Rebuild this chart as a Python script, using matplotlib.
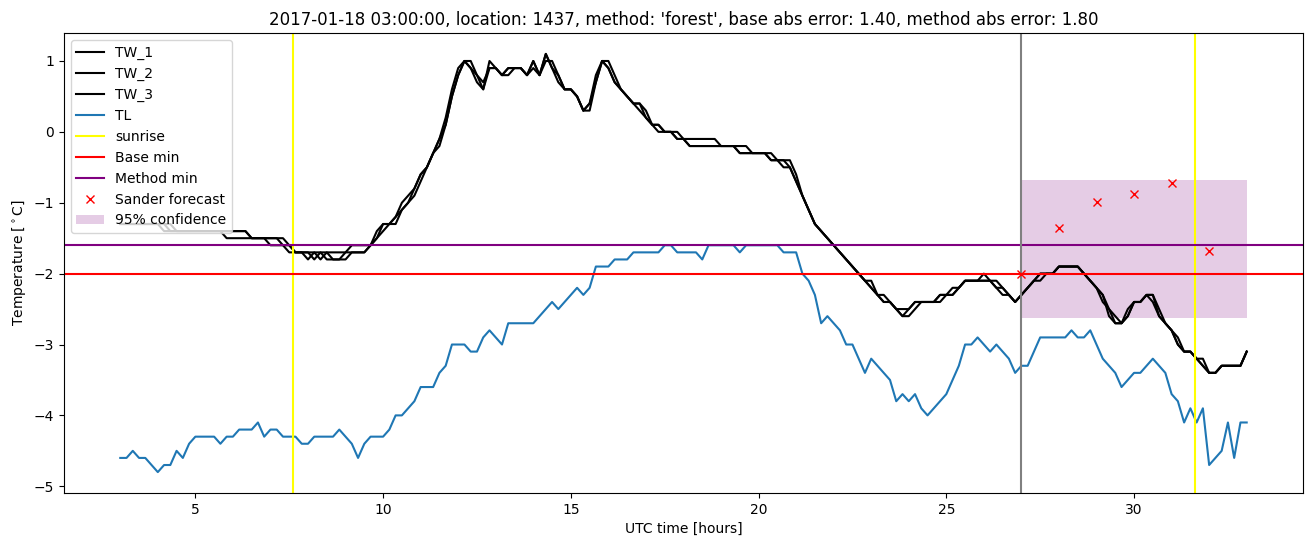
import numpy as np
import matplotlib
matplotlib.use("Agg")
import matplotlib.pyplot as plt

# 10-minute samples from 03:00 to 33:00 (hours since midnight UTC)
t_start, t_end = 3.0, 33.0

TW_1 = [
    -1.3, -1.3, -1.3, -1.3, -1.3, -1.3,
    -1.3, -1.4, -1.4, -1.4, -1.4, -1.4,
    -1.4, -1.4, -1.4, -1.4, -1.4, -1.5,
    -1.5, -1.5, -1.5, -1.5, -1.5, -1.5,
    -1.6, -1.6, -1.6, -1.7, -1.7, -1.7,
    -1.8, -1.7, -1.8, -1.7, -1.8, -1.8,
    -1.8, -1.7, -1.7, -1.7, -1.6, -1.5,
    -1.3, -1.3, -1.2, -1.1, -1.0, -0.8,
    -0.6, -0.5, -0.3, -0.1, 0.1, 0.5,
    0.8, 1.0, 0.9, 0.7, 0.6, 1.0,
    0.9, 0.8, 0.9, 0.9, 0.9, 0.8,
    1.0, 0.8, 1.1, 0.9, 0.7, 0.6,
    0.6, 0.5, 0.3, 0.4, 0.7, 1.0,
    0.9, 0.7, 0.6, 0.5, 0.4, 0.4,
    0.2, 0.1, 0.0, 0.0, 0.0, -0.1,
    -0.1, -0.2, -0.2, -0.2, -0.2, -0.2,
    -0.2, -0.2, -0.2, -0.3, -0.3, -0.3,
    -0.3, -0.3, -0.4, -0.4, -0.4, -0.5,
    -0.7, -0.9, -1.1, -1.3, -1.4, -1.5,
    -1.6, -1.7, -1.8, -1.9, -2.0, -2.1,
    -2.2, -2.3, -2.4, -2.4, -2.5, -2.6,
    -2.5, -2.4, -2.4, -2.4, -2.4, -2.3,
    -2.3, -2.3, -2.2, -2.1, -2.1, -2.1,
    -2.0, -2.1, -2.2, -2.2, -2.3, -2.4,
    -2.3, -2.2, -2.1, -2.0, -2.0, -2.0,
    -1.9, -1.9, -1.9, -1.9, -2.0, -2.1,
    -2.2, -2.3, -2.6, -2.7, -2.7, -2.5,
    -2.4, -2.4, -2.3, -2.4, -2.6, -2.7,
    -2.8, -3.0, -3.1, -3.1, -3.2, -3.2,
    -3.4, -3.4, -3.3, -3.3, -3.3, -3.3,
    -3.1,
]

TW_2 = [
    -1.3, -1.3, -1.3, -1.3, -1.3, -1.3,
    -1.3, -1.3, -1.4, -1.4, -1.4, -1.4,
    -1.4, -1.4, -1.4, -1.4, -1.4, -1.4,
    -1.4, -1.4, -1.4, -1.5, -1.5, -1.5,
    -1.5, -1.5, -1.6, -1.6, -1.7, -1.7,
    -1.7, -1.8, -1.7, -1.7, -1.7, -1.7,
    -1.7, -1.6, -1.6, -1.6, -1.6, -1.4,
    -1.3, -1.3, -1.2, -1.0, -0.9, -0.8,
    -0.6, -0.5, -0.3, -0.1, 0.2, 0.6,
    0.9, 1.0, 0.9, 0.8, 0.6, 0.9,
    0.9, 0.8, 0.9, 0.9, 0.9, 0.8,
    1.0, 0.8, 1.0, 1.0, 0.8, 0.6,
    0.6, 0.5, 0.3, 0.4, 0.8, 1.0,
    0.9, 0.7, 0.6, 0.5, 0.4, 0.3,
    0.2, 0.1, 0.1, 0.0, 0.0, -0.1,
    -0.1, -0.1, -0.1, -0.1, -0.1, -0.1,
    -0.2, -0.2, -0.2, -0.2, -0.2, -0.3,
    -0.3, -0.3, -0.3, -0.4, -0.4, -0.4,
    -0.6, -0.9, -1.1, -1.3, -1.4, -1.5,
    -1.6, -1.7, -1.8, -1.9, -2.0, -2.1,
    -2.1, -2.3, -2.3, -2.4, -2.5, -2.5,
    -2.5, -2.4, -2.4, -2.4, -2.4, -2.4,
    -2.3, -2.3, -2.2, -2.1, -2.1, -2.1,
    -2.1, -2.1, -2.1, -2.2, -2.3, -2.4,
    -2.3, -2.2, -2.1, -2.0, -2.0, -2.0,
    -1.9, -1.9, -1.9, -1.9, -2.0, -2.1,
    -2.2, -2.3, -2.5, -2.6, -2.7, -2.6,
    -2.4, -2.4, -2.3, -2.3, -2.5, -2.7,
    -2.8, -2.9, -3.1, -3.1, -3.2, -3.3,
    -3.4, -3.4, -3.3, -3.3, -3.3, -3.3,
    -3.1,
]

TW_3 = [
    -1.3, -1.3, -1.3, -1.3, -1.3, -1.3,
    -1.3, -1.3, -1.3, -1.4, -1.4, -1.4,
    -1.4, -1.4, -1.4, -1.4, -1.4, -1.4,
    -1.4, -1.4, -1.4, -1.5, -1.5, -1.5,
    -1.5, -1.5, -1.5, -1.6, -1.7, -1.7,
    -1.7, -1.7, -1.7, -1.8, -1.8, -1.8,
    -1.7, -1.7, -1.7, -1.7, -1.6, -1.5,
    -1.4, -1.3, -1.3, -1.1, -1.0, -0.9,
    -0.7, -0.5, -0.3, -0.2, 0.1, 0.5,
    0.8, 1.0, 1.0, 0.8, 0.7, 0.9,
    0.9, 0.8, 0.8, 0.9, 0.9, 0.8,
    0.9, 0.8, 1.1, 0.9, 0.8, 0.6,
    0.6, 0.5, 0.3, 0.3, 0.7, 1.0,
    1.0, 0.8, 0.6, 0.5, 0.4, 0.4,
    0.3, 0.1, 0.1, 0.0, 0.0, 0.0,
    -0.1, -0.2, -0.2, -0.2, -0.2, -0.2,
    -0.2, -0.2, -0.2, -0.3, -0.3, -0.3,
    -0.3, -0.3, -0.4, -0.4, -0.5, -0.5,
    -0.7, -0.9, -1.1, -1.3, -1.4, -1.5,
    -1.6, -1.7, -1.8, -1.9, -2.0, -2.1,
    -2.2, -2.3, -2.4, -2.4, -2.5, -2.6,
    -2.6, -2.5, -2.4, -2.4, -2.4, -2.3,
    -2.3, -2.2, -2.2, -2.1, -2.1, -2.1,
    -2.1, -2.1, -2.2, -2.3, -2.3, -2.4,
    -2.3, -2.2, -2.1, -2.1, -2.0, -2.0,
    -1.9, -1.9, -1.9, -1.9, -2.0, -2.1,
    -2.2, -2.4, -2.5, -2.7, -2.7, -2.6,
    -2.4, -2.4, -2.3, -2.3, -2.6, -2.7,
    -2.8, -3.0, -3.1, -3.1, -3.2, -3.3,
    -3.4, -3.4, -3.3, -3.3, -3.3, -3.3,
    -3.1,
]

TL = [
    -4.6, -4.6, -4.5, -4.6, -4.6, -4.7,
    -4.8, -4.7, -4.7, -4.5, -4.6, -4.4,
    -4.3, -4.3, -4.3, -4.3, -4.4, -4.3,
    -4.3, -4.2, -4.2, -4.2, -4.1, -4.3,
    -4.2, -4.2, -4.3, -4.3, -4.3, -4.4,
    -4.4, -4.3, -4.3, -4.3, -4.3, -4.2,
    -4.3, -4.4, -4.6, -4.4, -4.3, -4.3,
    -4.3, -4.2, -4.0, -4.0, -3.9, -3.8,
    -3.6, -3.6, -3.6, -3.4, -3.3, -3.0,
    -3.0, -3.0, -3.1, -3.1, -2.9, -2.8,
    -2.9, -3.0, -2.7, -2.7, -2.7, -2.7,
    -2.7, -2.6, -2.5, -2.4, -2.5, -2.4,
    -2.3, -2.2, -2.3, -2.2, -1.9, -1.9,
    -1.9, -1.8, -1.8, -1.8, -1.7, -1.7,
    -1.7, -1.7, -1.7, -1.6, -1.6, -1.7,
    -1.7, -1.7, -1.7, -1.8, -1.6, -1.6,
    -1.6, -1.6, -1.6, -1.7, -1.6, -1.6,
    -1.6, -1.6, -1.6, -1.6, -1.7, -1.7,
    -1.7, -2.0, -2.1, -2.3, -2.7, -2.6,
    -2.7, -2.8, -3.0, -3.0, -3.2, -3.4,
    -3.2, -3.3, -3.4, -3.5, -3.8, -3.7,
    -3.8, -3.7, -3.9, -4.0, -3.9, -3.8,
    -3.7, -3.5, -3.3, -3.0, -3.0, -2.9,
    -3.0, -3.1, -3.0, -3.1, -3.2, -3.4,
    -3.3, -3.3, -3.1, -2.9, -2.9, -2.9,
    -2.9, -2.9, -2.8, -2.9, -2.9, -2.8,
    -3.0, -3.2, -3.3, -3.4, -3.6, -3.5,
    -3.4, -3.4, -3.3, -3.2, -3.3, -3.4,
    -3.7, -3.8, -4.1, -3.9, -4.1, -3.9,
    -4.7, -4.6, -4.5, -4.1, -4.6, -4.1,
    -4.1,
]

sunrise = [7.61, 31.63]
base_min = -2.0
method_min = -1.6
forecast_time = 27.0

sander_hours = [27, 28, 29, 30, 31, 32]
sander_temp = [-2.0, -1.36, -0.99, -0.87, -0.72, -1.68]

conf_hours = [27.0, 33.0]
conf_low = -2.62
conf_high = -0.68

title = ("2017-01-18 03:00:00, location: 1437, method: 'forest', "
         "base abs error: 1.40, method abs error: 1.80")

t = np.linspace(t_start, t_end, len(TL))

fig = plt.figure(figsize=(13.13, 5.47), dpi=100)
ax = fig.add_subplot(111)
fig.subplots_adjust(left=0.0487, right=0.9924, top=0.9397, bottom=0.0987)

ax.plot(t, TW_1, color="black", label="TW_1")
ax.plot(t, TW_2, color="black", label="TW_2")
ax.plot(t, TW_3, color="black", label="TW_3")
ax.plot(t, TL, color="tab:blue", label="TL")

for i, s in enumerate(sunrise):
    ax.axvline(s, color="yellow", label="sunrise" if i == 0 else None)
ax.axhline(base_min, color="red", label="Base min")
ax.axhline(method_min, color="purple", label="Method min")
ax.axvline(forecast_time, color="gray")

ax.plot(sander_hours, sander_temp, "rx", label="Sander forecast")
ax.fill_between(conf_hours, conf_low, conf_high, color="purple", alpha=0.2,
                linewidth=0, label="95% confidence")

ax.set_title(title)
ax.set_xlabel("UTC time [hours]")
ax.set_ylabel(r"Temperature [$^\circ$C]")
ax.legend(loc="upper left")

fig.savefig("out.png", dpi=100)
